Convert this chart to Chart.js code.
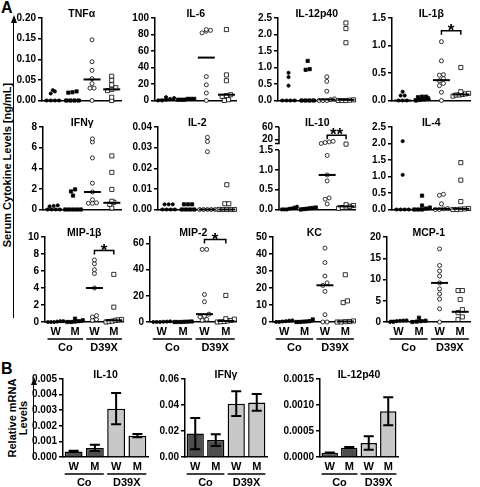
<!DOCTYPE html>
<html>
<head>
<meta charset="utf-8">
<script src="https://cdn.jsdelivr.net/npm/chart.js@4.4.0/dist/chart.umd.min.js"></script>
<style>
  body { margin: 0; width: 480px; height: 487px; position: relative; overflow: hidden; background: #fff;
         font-family: "Liberation Sans", Arial, sans-serif; font-weight: bold; color: #000; }
  canvas { position: absolute; }
  .t { position: absolute; white-space: nowrap; }
  .rot { position: absolute; text-align: center; transform: rotate(-90deg); white-space: nowrap; }
</style>
</head>
<body>
<div class="t" style="left:1px;top:-1px;font-size:16px">A</div>
<div class="t" style="left:1px;top:360px;font-size:16px">B</div>
<div class="rot" style="left:-123px;top:158px;width:260px;height:14px;font-size:11px;line-height:14px">Serum Cytokine Levels [ng/mL]</div>
<div style="position:absolute;left:13px;top:22px;height:296px;border-left:1.5px solid #000"></div>
<div style="position:absolute;left:10.5px;top:15px;width:0;height:0;border-left:3.2px solid transparent;border-right:3.2px solid transparent;border-bottom:8px solid #000"></div>
<div class="rot" style="left:-33px;top:411px;width:90px;height:14px;font-size:11px;line-height:14px">Relative mRNA</div>
<div class="rot" style="left:-22px;top:411px;width:90px;height:14px;font-size:11px;line-height:14px">Levels</div>
<div style="position:absolute;left:33px;top:384px;height:74px;border-left:1.5px solid #000"></div>
<div style="position:absolute;left:30.5px;top:377px;width:0;height:0;border-left:3.2px solid transparent;border-right:3.2px solid transparent;border-bottom:8px solid #000"></div>

<script>
// groups in every panel: Co W, Co M, D39X W, D39X M
const groupLabels = ['W', 'M', 'W', 'M'];
const strainLabels = ['Co', 'D39X'];

// serum cytokines (ng/mL), one list per group
const tnfa = [[0.022, 0.017, 0.025, 0, 0, 0, 0], [0.019, 0.02, 0.022, 0, 0, 0, 0],
  [0.147, 0.094, 0.073, 0.053, 0.041, 0.03, 0.03, 0], [0.059, 0.049, 0.038, 0.031, 0.027, 0.024, 0.008, 0]];
const tnfaMed = [0, 0, 0.051, 0.027];
const tnfaTicks = [0, 0.05, 0.1, 0.15, 0.2];

const il6 = [[3, 2, 4, 1, 0, 0], [2, 2, 1, 1, 2, 1], [82, 85, 86, 84, 29, 19, 9, 0], [86, 31, 24, 7, 6, 5, 1, 0]];
const il6Med = [1, 1, 52, 7];
const il6Ticks = [0, 20, 40, 60, 80, 100];

const il12 = [[0.84, 0.71, 0.45, 0, 0, 0, 0], [1.2, 0.95, 0.93, 0, 0, 0, 0],
  [0.72, 0.58, 0.28, 0.05, 0.03, 0, 0, 0], [2.35, 2.18, 1.75, 0.02, 0.01, 0, 0, 0]];
const il12Med = [0, 0, 0.03, 0.02];
const il12Ticks = [0, 0.5, 1, 1.5, 2, 2.5];

const il1b = [[0.09, 0.09, 0.16, 0, 0, 0], [0.07, 0.06, 0.07, 0.04, 0.02, 0.01, 0],
  [1.07, 0.72, 0.47, 0.46, 0.4, 0.36, 0.31, 0.27, 0.15, 0], [0.6, 0.16, 0.13, 0.12, 0.11, 0.1, 0.1, 0.08]];
const il1bMed = [0, 0.02, 0.37, 0.11];
const il1bTicks = [0, 0.5, 1, 1.5];

const ifng = [[0.4, 0.3, 0.35, 0, 0, 0, 0], [1.95, 1.75, 1.35, 0, 0, 0, 0, 0],
  [6.85, 6.55, 5.0, 2.55, 1.7, 0.95, 0.65, 0.6, 0.6], [5.2, 3.6, 1.95, 0.8, 0.7, 0.5, 0.15]];
const ifngMed = [0, 0, 1.7, 0.65];
const ifngTicks = [0, 2, 4, 6, 8];

const il2 = [[0.0025, 0.0025, 0.0025, 0, 0, 0, 0], [0.0025, 0.0025, 0.0025, 0, 0, 0, 0],
  [0.035, 0.033, 0.028, 0, 0, 0, 0, 0], [0.012, 0.0028, 0.0028, 0, 0, 0, 0, 0]];
const il2Med = [0, 0, 0, 0];
const il2Ticks = [0, 0.01, 0.02, 0.03, 0.04];

const il10 = [[0.03, 0.05, 0.07, 0.02, 0, 0, 0], [0.04, 0.03, 0.05, 0.02, 0.01, 0],
  [10, 7, 12, 14, 1.36, 0.87, 0.72, 0.29, 0.26, 0.14], [5, 0.12, 0.1, 0.08, 0.06, 0.05, 0.03]];
const il10Med = [0.02, 0.02, 0.87, 0.08];
const il10Ticks = [0, 0.5, 1, 1.5, 20, 60];

const il4 = [[2.07, 1.05, 0, 0, 0, 0], [0.42, 0.12, 0.06, 0.03, 0, 0, 0],
  [0.46, 0.43, 0.17, 0.03, 0.02, 0, 0], [1.42, 0.89, 0.24, 0.03, 0.02, 0.01, 0, 0]];
const il4Med = [0, 0.01, 0.02, 0.02];
const il4Ticks = [0, 0.5, 1, 1.5, 2, 2.5];

const mip1b = [[0.1, 0.05, 0.1, 0, 0, 0], [0.2, 0.4, 0.1, 0.05, 0, 0],
  [7.3, 6.85, 6.15, 5.7, 4.0, 0.75, 0.6, 0.3, 0.2], [5.6, 1.75, 0.3, 0.25, 0.2, 0.1, 0.05, 0]];
const mip1bMed = [0, 0.05, 4.0, 0.2];
const mip1bTicks = [0, 2, 4, 6, 8, 10];

const mip2 = [[0.5, 0.3, 0.2, 0, 0, 0], [0.4, 0.3, 0.2, 0, 0, 0],
  [55.5, 55.5, 21, 15.5, 6, 4.5, 3.8, 2, 1.3], [20.3, 2.5, 2.2, 1.2, 0.8, 0.4, 0.2, 0]];
const mip2Med = [0.2, 0.2, 6, 0.8];
const mip2Ticks = [0, 20, 40, 60];

const kc = [[1.0, 0.5, 0.8, 0.3, 0, 0], [1.5, 0.5, 0.3, 0.2, 0, 0],
  [43.5, 35, 27, 23, 21.5, 18, 4.3, 0, 0], [27.8, 12.4, 11.4, 0.6, 0.3, 0.2, 0, 0]];
const kcMed = [0.4, 0.3, 21.6, 0.3];
const kcTicks = [0, 10, 20, 30, 40, 50];

const mcp1 = [[0.4, 0.3, 0.35, 0.2, 0, 0], [1.0, 0.3, 0.2, 0.1, 0], [17.2, 13.3, 12.0, 10.8, 9.2, 7.8, 6.6, 5.4, 3.1, 0],
  [7.4, 7.4, 5.3, 2.9, 2.2, 1.2, 0.6]];
const mcp1Med = [0.3, 0.2, 9.2, 2.4];
const mcp1Ticks = [0, 5, 10, 15, 20];

// relative mRNA levels, mean and error per group
const il10Mrna = [0.00036, 0.00058, 0.0031, 0.00137];
const il10MrnaErr = [0.00004, 0.0002, 0.001, 0.0001];
const il10MrnaTicks = [0, 0.001, 0.002, 0.003, 0.004, 0.005];

const ifngMrna = [0.018, 0.013, 0.041, 0.042];
const ifngMrnaErr = [0.012, 0.0045, 0.0095, 0.0065];
const ifngMrnaTicks = [0, 0.02, 0.04, 0.06];

const il12Mrna = [0.00008, 0.00018, 0.00027, 0.00088];
const il12MrnaErr = [0.000005, 0.00001, 0.00013, 0.00027];
const il12MrnaTicks = [0, 0.0005, 0.001, 0.0015];

// layout
const YW = 40, PT = 18, PR = 4;
const FONT = '"Liberation Sans", Arial, sans-serif';
const R1 = {top: 18, zero: 103}, R2 = {top: 127, zero: 212}, R3 = {top: 237, zero: 322}, RB = {top: 379, zero: 457};

// IL-10 axis has a break above 1.5
const brk = v => v <= 1.5 ? v : 1.764 + (v - 20) * 0.00783;

Chart.defaults.font.family = FONT;
Chart.defaults.font.weight = 'bold';
Chart.defaults.color = '#000';
Chart.defaults.animation = false;
Chart.defaults.plugins.legend.display = false;
Chart.defaults.plugins.tooltip.enabled = false;

const marks = [
  {pointStyle: 'circle', pointRadius: 1.6, backgroundColor: '#000', borderColor: '#000', borderWidth: 0.8},
  {pointStyle: 'rect', pointRadius: 2.3, backgroundColor: '#000', borderColor: '#000', borderWidth: 0.8},
  {pointStyle: 'circle', pointRadius: 2, backgroundColor: '#fff', borderColor: '#000', borderWidth: 0.8},
  {pointStyle: 'rect', pointRadius: 2.9, backgroundColor: '#fff', borderColor: '#000', borderWidth: 0.8}
];

// spread points with nearly equal values side by side, like a column scatter
function spread(vals, g, tol) {
  const s = vals.slice().sort((a, b) => a - b);
  const out = [];
  let run = [];
  const flush = () => {
    const n = run.length, step = n > 1 ? Math.min(0.21, 0.8 / (n - 1)) : 0;
    run.forEach((v, i) => out.push({x: g + (i - (n - 1) / 2) * step, y: v}));
    run = [];
  };
  s.forEach(v => {
    if (run.length && v - run[0] > tol) flush();
    run.push(v);
  });
  flush();
  return out;
}

const deco = {
  id: 'deco',
  afterDatasetsDraw(chart, args, o) {
    if (!o.err) return;
    const {ctx, scales: {y}} = chart;
    const meta = chart.getDatasetMeta(0);
    ctx.save();
    ctx.strokeStyle = '#000';
    ctx.lineWidth = 2;
    meta.data.forEach((bar, i) => {
      const m = o.vals[i], e = o.err[i];
      const y1 = y.getPixelForValue(m + e), y2 = y.getPixelForValue(m - e);
      ctx.beginPath();
      ctx.moveTo(bar.x, y1); ctx.lineTo(bar.x, y2);
      ctx.moveTo(bar.x - 5, y1); ctx.lineTo(bar.x + 5, y1);
      ctx.moveTo(bar.x - 5, y2); ctx.lineTo(bar.x + 5, y2);
      ctx.stroke();
    });
    ctx.restore();
  },
  afterDraw(chart, args, o) {
    const {ctx, chartArea: a, scales: {x, y}} = chart;
    const px = i => x.getPixelForValue(i + o.base);
    ctx.save();
    ctx.fillStyle = '#000';
    ctx.strokeStyle = '#000';
    ctx.textAlign = 'center';
    ctx.textBaseline = 'middle';
    ctx.font = 'bold 10.5px ' + FONT;
    if (o.title) ctx.fillText(o.title, (a.left + a.right) / 2, a.top - 4);
    ctx.lineWidth = 1.5;
    if (o.sig) {
      const yy = y.getPixelForValue(o.sig.y), x1 = px(2), x2 = px(3);
      ctx.beginPath();
      ctx.moveTo(x1, yy + 4); ctx.lineTo(x1, yy); ctx.lineTo(x2, yy); ctx.lineTo(x2, yy + 4);
      ctx.stroke();
      ctx.font = 'bold 17px ' + FONT;
      ctx.textBaseline = 'alphabetic';
      ctx.fillText(o.sig.t, (x1 + x2) / 2, yy + 5);
      ctx.textBaseline = 'middle';
    }
    if (o.groups) {
      const sp = px(1) - px(0);
      ctx.font = 'bold 11px ' + FONT;
      [0, 1].forEach(k => {
        const x1 = px(2 * k) - 0.42 * sp, x2 = px(2 * k + 1) + 0.42 * sp;
        ctx.beginPath();
        ctx.moveTo(x1, a.bottom + 17); ctx.lineTo(x2, a.bottom + 17);
        ctx.stroke();
        ctx.fillText(strainLabels[k], (px(2 * k) + px(2 * k + 1)) / 2, a.bottom + 26);
      });
    }
    if (o.brk) {
      const yb = y.getPixelForValue(1.5), yu = y.getPixelForValue(1.66);
      ctx.beginPath();
      ctx.moveTo(a.left, a.bottom); ctx.lineTo(a.left, yb);
      ctx.moveTo(a.left - 4, yu); ctx.lineTo(a.left, yu); ctx.lineTo(a.left, a.top);
      ctx.stroke();
    }
    ctx.restore();
  }
};
Chart.register(deco);

function place(p, xb) {
  const c = document.createElement('canvas');
  const w = p.end - p.axis + YW + PR, h = p.row.zero - p.row.top + PT + xb;
  c.width = w; c.height = h;
  c.style.left = (p.axis - YW) + 'px';
  c.style.top = (p.row.top - PT) + 'px';
  document.body.appendChild(c);
  return c;
}

function yScale(p, tr) {
  return {
    min: 0, max: p.ymax + 1e-9,
    afterBuildTicks: s => { s.ticks = p.ticks.map(v => ({value: tr(v)})); },
    ticks: {font: {size: 10}, padding: 2, autoSkip: false, source: 'ticks',
      callback: (v, i) => p.ticks[i] >= 10 ? String(p.ticks[i]) : p.ticks[i].toFixed(p.dec)},
    grid: {display: true, drawOnChartArea: false, drawTicks: true, tickLength: 4, color: '#000', lineWidth: 1.5},
    border: {display: !p.brk, color: '#000', width: 1.5},
    afterFit: s => { s.width = YW; }
  };
}

function scatter(p) {
  const tr = p.brk ? brk : (v => v);
  const xb = p.labels ? 34 : 8;
  const datasets = [{
    data: p.med.map((m, i) => ({x: i + 1, y: tr(m)})),
    pointStyle: 'line', pointRadius: 8.5, borderWidth: 2, borderColor: '#000', clip: false
  }];
  p.vals.forEach((vs, i) => datasets.push(Object.assign(
    {data: spread(vs.map(tr), i + 1, p.ymax * 0.035), clip: false}, marks[i])));
  new Chart(place(p, xb), {
    type: 'scatter',
    data: {datasets},
    options: {
      responsive: false,
      layout: {padding: {top: PT, right: PR, left: 0, bottom: 0}},
      scales: {
        x: {
          type: 'linear', min: p.xmin || 0.45, max: p.xmax || 4.5,
          afterBuildTicks: s => { s.ticks = groupLabels.map((l, i) => ({value: i + 1})); },
          ticks: {display: !!p.labels, font: {size: 11}, padding: 3, autoSkip: false, maxRotation: 0, source: 'ticks',
            callback: (v, i) => groupLabels[i]},
          grid: {display: false, drawTicks: false},
          border: {display: true, color: '#000', width: 1.5},
          afterFit: s => { s.height = xb; }
        },
        y: yScale(p, tr)
      },
      plugins: {deco: {base: 1, title: p.title, sig: p.sig, groups: p.labels, brk: p.brk}}
    }
  });
}

function bars(p) {
  const xb = 34;
  new Chart(place(p, xb), {
    type: 'bar',
    data: {
      labels: groupLabels,
      datasets: [{data: p.vals, backgroundColor: ['#4d4d4d', '#4d4d4d', '#c8c8c8', '#c8c8c8'],
        borderColor: '#000', borderWidth: 1.5, categoryPercentage: 1, barPercentage: 0.84}]
    },
    options: {
      responsive: false,
      layout: {padding: {top: PT, right: PR, left: 0, bottom: 0}},
      scales: {
        x: {
          ticks: {font: {size: 11}, padding: 3, autoSkip: false, maxRotation: 0},
          grid: {display: false, drawTicks: false},
          border: {display: true, color: '#000', width: 1.5},
          afterFit: s => { s.height = xb; }
        },
        y: yScale(p, v => v)
      },
      plugins: {deco: {base: 0, title: p.title, groups: true, err: p.err, vals: p.vals}}
    }
  });
}

scatter({title: 'TNFα', vals: tnfa, med: tnfaMed, ticks: tnfaTicks, dec: 2, ymax: 0.2, row: R1, axis: 42, end: 128});
scatter({title: 'IL-6', vals: il6, med: il6Med, ticks: il6Ticks, dec: 0, ymax: 100, row: R1, axis: 155, end: 243});
scatter({title: 'IL-12p40', vals: il12, med: il12Med, ticks: il12Ticks, dec: 1, ymax: 2.5, row: R1, axis: 278, end: 362});
scatter({title: 'IL-1β', vals: il1b, med: il1bMed, ticks: il1bTicks, dec: 1, ymax: 1.5, row: R1, axis: 392, end: 477,
  sig: {y: 1.27, t: '*'}});

scatter({title: 'IFNγ', vals: ifng, med: ifngMed, ticks: ifngTicks, dec: 0, ymax: 8, row: R2, axis: 43, end: 128});
scatter({title: 'IL-2', vals: il2, med: il2Med, ticks: il2Ticks, dec: 2, ymax: 0.04, row: R2, axis: 158, end: 243});
scatter({title: 'IL-10', vals: il10, med: il10Med, ticks: il10Ticks, dec: 1, ymax: brk(60), row: R2, axis: 279, end: 362,
  brk: true, sig: {y: 1.87, t: '**'}});
scatter({title: 'IL-4', vals: il4, med: il4Med, ticks: il4Ticks, dec: 1, ymax: 2.5, row: R2, axis: 392, end: 477});

scatter({title: 'MIP-1β', vals: mip1b, med: mip1bMed, ticks: mip1bTicks, dec: 0, ymax: 10, row: R3, axis: 45, end: 130,
  labels: true, sig: {y: 8.4, t: '*'}});
scatter({title: 'MIP-2', vals: mip2, med: mip2Med, ticks: mip2Ticks, dec: 0, ymax: 65, row: R3, axis: 150, end: 243,
  labels: true, sig: {y: 63, t: '*'}});
scatter({title: 'KC', vals: kc, med: kcMed, ticks: kcTicks, dec: 0, ymax: 50, row: R3, axis: 273, end: 362, labels: true});
scatter({title: 'MCP-1', vals: mcp1, med: mcp1Med, ticks: mcp1Ticks, dec: 0, ymax: 20, row: R3, axis: 387, end: 477, labels: true});

bars({title: 'IL-10', vals: il10Mrna, err: il10MrnaErr, ticks: il10MrnaTicks, dec: 3, ymax: 0.005, row: RB, axis: 63, end: 148});
bars({title: 'IFNγ', vals: ifngMrna, err: ifngMrnaErr, ticks: ifngMrnaTicks, dec: 2, ymax: 0.06, row: RB, axis: 185, end: 267});
bars({title: 'IL-12p40', vals: il12Mrna, err: il12MrnaErr, ticks: il12MrnaTicks, dec: 4, ymax: 0.0015, row: RB, axis: 320, end: 398});
</script>
</body>
</html>
